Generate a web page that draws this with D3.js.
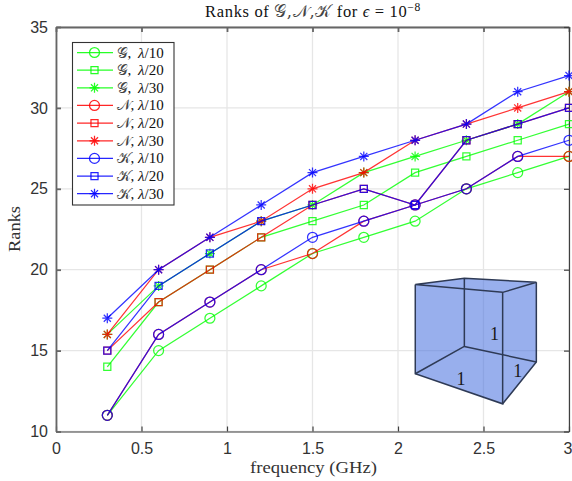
<!DOCTYPE html>
<html><head><meta charset="utf-8">
<style>html,body{margin:0;padding:0;background:#fff;overflow:hidden}svg{display:block}</style>
<script src="https://cdn.jsdelivr.net/npm/d3@7"></script></head>
<body><svg id="c" width="572" height="481"></svg>
<script>
const frequency=[0.3,0.6,0.9,1.2,1.5,1.8,2.1,2.4,2.7,3.0];
const G10=[11,15,17,19,21,22,23,25,26,27];
const G20=[14,18,20,22,23,24,26,27,28,29];
const G30=[16,19,21,23,24,26,27,28,29,31];
const N10=[11,16,18,20,21,23,24,25,27,27];
const N20=[15,18,20,22,24,25,24,28,29,30];
const N30=[16,20,22,23,25,26,28,29,30,31];
const K10=[11,16,18,20,22,23,24,25,27,28];
const K20=[15,19,21,23,24,25,24,28,29,30];
const K30=[17,20,22,24,26,27,28,29,31,32];
const seriesValues=[G10,G20,G30,N10,N20,N30,K10,K20,K30];
const seriesColors=["#00ff00","#00ff00","#00ff00","#ff0000","#ff0000","#ff0000","#0000ff","#0000ff","#0000ff"];
const seriesMarkers=["circle","square","star","circle","square","star","circle","square","star"];
const seriesScript=["𝒢","𝒢","𝒢","𝒩","𝒩","𝒩","𝒦","𝒦","𝒦"];
const seriesSuffix=["λ/10","λ/20","λ/30","λ/10","λ/20","λ/30","λ/10","λ/20","λ/30"];
const xTicks=[0,0.5,1,1.5,2,2.5,3];
const yTicks=[10,15,20,25,30,35];
const cubeFaces=[
 [[2.101,19.08],[2.388,19.47],[2.809,19.22],[2.809,14.29],[2.612,11.71],[2.101,13.57]]];
const cubeEdges=[
 [[2.101,19.08],[2.388,19.47],[2.809,19.22],[2.612,18.60],[2.101,19.08]],
 [[2.101,19.08],[2.101,13.57],[2.612,11.71],[2.612,18.60]],
 [[2.809,19.22],[2.809,14.29],[2.612,11.71]],
 [[2.388,19.47],[2.388,15.26],[2.101,13.57]],
 [[2.388,15.26],[2.809,14.29]]];
const cubeLabels=[[2.565,15.65],[2.368,12.9],[2.70,13.36]];

const serif='"Liberation Serif","DejaVu Serif",serif';
const svg=d3.select("#c");
const L=56,R=569,T=27,B=431.5;
const x=d3.scaleLinear().domain([0,3]).range([L,R]);
const y=d3.scaleLinear().domain([10,35]).range([B,T]);

// grid
const gridG=svg.append("g");
xTicks.forEach(d=>gridG.append("line").attr("x1",x(d)).attr("x2",x(d)).attr("y1",T).attr("y2",B));
yTicks.forEach(d=>gridG.append("line").attr("x1",L).attr("x2",R).attr("y1",y(d)).attr("y2",y(d)));
gridG.selectAll("line").attr("stroke","#e6e6e6").attr("stroke-width",1.3);

// axes
const tickFont='"Liberation Sans",Arial,sans-serif';
const ax=svg.append("g").attr("transform",`translate(0,${B})`).call(d3.axisBottom(x).tickValues(xTicks).tickFormat(d3.format("~g")).tickSizeInner(-5).tickSizeOuter(0).tickPadding(11.5));
const ay=svg.append("g").attr("transform",`translate(${L},0)`).call(d3.axisLeft(y).tickValues(yTicks).tickSizeInner(-5).tickSizeOuter(0).tickPadding(8));
const axTop=svg.append("g").attr("transform",`translate(0,${T})`).call(d3.axisTop(x).tickValues(xTicks).tickFormat("").tickSizeInner(-5).tickSizeOuter(0));
const axRight=svg.append("g").attr("transform",`translate(${R},0)`).call(d3.axisRight(y).tickValues(yTicks).tickFormat("").tickSizeInner(-5).tickSizeOuter(0));
[ax,axRight].forEach(g=>g.selectAll("path,line").attr("stroke","#404040").attr("stroke-width",1.2));
[ay,axTop].forEach(g=>g.selectAll("path,line").attr("stroke","#666").attr("stroke-width",1.8));
[ax,ay].forEach(g=>g.selectAll("text").attr("fill","#333").attr("font-family",tickFont).attr("font-size",16));
ax.selectAll(".tick text").filter(d=>d===3).attr("dx",-1.5);

// marker shapes
const starType={draw(ctx,size){const r=Math.sqrt(size);for(let i=0;i<4;i++){const a=i*Math.PI/4;ctx.moveTo(-r*Math.cos(a),-r*Math.sin(a));ctx.lineTo(r*Math.cos(a),r*Math.sin(a));}}};
const markerPath={circle:d3.symbol(d3.symbolCircle,78)(),square:d3.symbol(d3.symbolSquare,50)(),star:d3.symbol(starType,25)()};

// series
const line=d3.line().x((d,i)=>x(frequency[i])).y(d=>y(d));
seriesValues.forEach((vals,s)=>{
 const g=svg.append("g").attr("stroke",seriesColors[s]).attr("stroke-opacity",0.8).attr("fill","none").attr("stroke-width",1.25);
 g.append("path").attr("d",line(vals));
 vals.forEach((d,i)=>g.append("path").attr("d",markerPath[seriesMarkers[s]]).attr("transform",`translate(${x(frequency[i])},${y(d)})`));
});

// cube
const cg=svg.append("g");
const cl=d3.line().x(d=>x(d[0])).y(d=>y(d[1]));
cg.selectAll("path.f").data(cubeFaces).join("path").attr("d",d=>cl(d)+"Z").attr("fill","#4a73e0").attr("fill-opacity",0.57).attr("stroke","none");
cubeEdges.forEach(e=>cg.append("path").attr("d",cl(e)).attr("fill","none").attr("stroke","#2e3a55").attr("stroke-width",1.5));
cg.selectAll("text").data(cubeLabels).join("text").attr("x",d=>x(d[0])).attr("y",d=>y(d[1])).attr("text-anchor","middle")
 .attr("font-family",serif).attr("font-size",18).attr("fill","#1a1a1a").text("1");

// legend
const lg=svg.append("g");
const legendY=d3.scalePoint().domain(d3.range(9)).range([52.5,193.7]);
lg.append("rect").attr("x",72.5).attr("y",42.5).attr("width",101.5).attr("height",162.5).attr("fill","#fff").attr("stroke","#333").attr("stroke-width",1.1);
seriesScript.forEach((t,s)=>{
 const yy=legendY(s);
 const g=lg.append("g").attr("stroke",seriesColors[s]).attr("stroke-opacity",0.85).attr("fill","none").attr("stroke-width",1.25);
 g.append("line").attr("x1",77).attr("x2",113).attr("y1",yy).attr("y2",yy);
 g.append("path").attr("d",markerPath[seriesMarkers[s]]).attr("transform",`translate(94.5,${yy})`);
 const tx=lg.append("text").attr("x",116.5).attr("y",yy+5).attr("font-family",serif).attr("font-size",15).attr("fill","#111").style("white-space","pre");
 tx.append("tspan").attr("font-family",'"DejaVu Serif",serif').attr("font-size",15).attr("fill","#444").text(t);
 tx.append("tspan").text(", ");
 tx.append("tspan").attr("x",138).attr("font-style","italic").text(seriesSuffix[s].slice(0,1));
 tx.append("tspan").text(seriesSuffix[s].slice(1));
});

// titles
const title=svg.append("text").attr("x",313).attr("y",17).attr("text-anchor","middle").attr("font-family",serif).attr("font-size",16.5).attr("letter-spacing",0.65).attr("fill","#111").style("white-space","pre");
title.append("tspan").text("Ranks of ");
title.append("tspan").attr("font-family",'"DejaVu Serif",serif').attr("font-size",16.5).attr("fill","#444").text("𝒢,𝒩,𝒦");
title.append("tspan").text(" for ");
title.append("tspan").attr("font-style","italic").text("ϵ");
title.append("tspan").text(" = 10");
title.append("tspan").attr("dy",-6).attr("font-size",11.5).text("−8");
svg.append("text").attr("x",313.5).attr("y",473).attr("text-anchor","middle").attr("font-family",serif).attr("font-size",16.5).attr("textLength",127).attr("lengthAdjust","spacingAndGlyphs").attr("fill","#333").text("frequency (GHz)");
svg.append("text").attr("transform","translate(20,229) rotate(-90)").attr("text-anchor","middle").attr("font-family",serif).attr("font-size",16.5).attr("textLength",46).attr("lengthAdjust","spacingAndGlyphs").attr("fill","#333").text("Ranks");
</script></body></html>
